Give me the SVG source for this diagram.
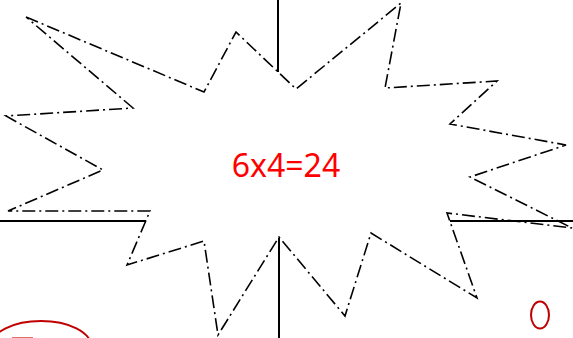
<svg xmlns="http://www.w3.org/2000/svg" width="573" height="338" viewBox="0 0 573 338">
<style>
.solid{stroke:#000;stroke-width:2;fill:none}
.burst{stroke:#000;stroke-width:1.6;fill:none;stroke-dasharray:13 4 2 4;stroke-linejoin:miter}
.red{stroke:#c00000;stroke-width:2;fill:none}
.lbl{font-family:"Noto Sans","Open Sans",sans-serif;font-size:32px;fill:#ff0000}
</style>
<rect width="573" height="338" fill="#fff"/>
<g id="connectors">
<line class="solid" x1="278" y1="0" x2="278" y2="72"/>
<line class="solid" x1="279" y1="238" x2="279" y2="338"/>
<line class="solid" x1="0" y1="221" x2="146" y2="221"/>
<line class="solid" x1="450" y1="221" x2="573" y2="221"/>
</g>
<g id="burst">
<polygon class="burst" points="26,17 204,92 236,32 296,89 401,3 385,88 497,81 450,124 566,145 470,177 572,228 447,213 477,298 371,233 345,316 279,237 218,335 204,241 127,265 150,211 8,211 103,170 6,116 133,108"/>
<text class="lbl" x="286" y="177" text-anchor="middle">6x4=24</text>
</g>
<g id="circle-left">
<ellipse class="red" cx="41" cy="346" rx="50" ry="25"/>
<rect x="12" y="337" width="21" height="1" fill="#e07070"/>
</g>
<g id="oval-right">
<ellipse class="red" cx="540" cy="315" rx="9" ry="13.5"/>
</g>
</svg>
